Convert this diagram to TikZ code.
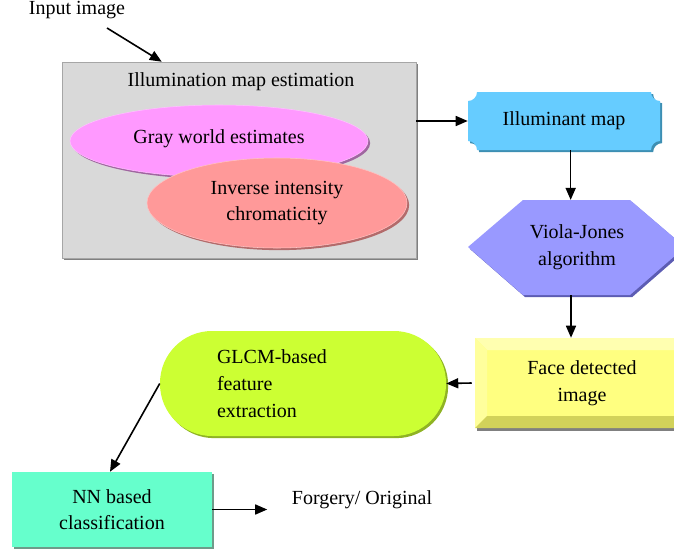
\documentclass[tikz,border=0pt]{standalone}
\usepackage{fontspec}
\setmainfont{Liberation Serif}
\usetikzlibrary{arrows.meta,shapes.geometric,shadows}
\definecolor{graybox}{HTML}{D9D9D9}
\definecolor{grayedge}{HTML}{A6A6A6}
\definecolor{grayshade}{HTML}{808080}
\definecolor{pinkfill}{HTML}{FF99FF}
\definecolor{pinkshade}{HTML}{A066A0}
\definecolor{salmonfill}{HTML}{FF9999}
\definecolor{salmonshade}{HTML}{B36B6B}
\definecolor{bluefill}{HTML}{66CCFF}
\definecolor{blueshade}{HTML}{3D8FB3}
\definecolor{hexfill}{HTML}{9999FF}
\definecolor{hexshade}{HTML}{5C5CB3}
\definecolor{facemain}{HTML}{FFFF80}
\definecolor{facetop}{HTML}{FFFFB0}
\definecolor{faceleft}{HTML}{FFFF9C}
\definecolor{facebot}{HTML}{D2D25A}
\definecolor{limefill}{HTML}{CCFF33}
\definecolor{limeshade}{HTML}{8FB324}
\definecolor{mintfill}{HTML}{66FFCC}
\definecolor{mintshade}{HTML}{6E9C8A}
\begin{document}
\begin{tikzpicture}[x=0.75pt,y=-0.75pt,>={Triangle[length=9pt,width=7.5pt]},
 every node/.style={font=\fontsize{15}{20}\selectfont},
 conn/.style={->,line width=1.2pt},
 sh/.style={drop shadow={shadow xshift=1.6pt,shadow yshift=-1.6pt,fill=#1,opacity=1}}]
 \useasboundingbox (0,0) rectangle (674,550);
 % illumination map estimation
 \node[draw=grayedge,fill=graybox,sh=grayshade,minimum width=265.5pt,minimum height=147pt] (illumbox) at (239,160) {};
 \node (illumtitle) at (241,82) {Illumination map estimation};
 \node[ellipse,draw=pinkfill!60!white,fill=pinkfill,sh=pinkshade,minimum width=223.5pt,minimum height=54pt,inner sep=0pt] (gray) at (219,141) {\raisebox{6pt}{Gray world estimates}};
 \node[ellipse,draw=salmonfill!60!white,fill=salmonfill,sh=salmonshade,minimum width=195pt,minimum height=67.5pt,inner sep=0pt,align=center] (iic) at (277,203) {Inverse intensity\\chromaticity};
 \node (input) at (77,10) {Input image};
 \coordinate (inA) at (107,28);
 % illuminant map
 \fill[bluefill,sh=blueshade] (477,92) -- (651,92) .. controls (651,97) and (655,101) .. (660,101) -- (660,141)
   .. controls (655,141) and (651,145) .. (651,150) -- (477,150) .. controls (477,145) and (473,141) .. (468,141)
   -- (468,101) .. controls (473,101) and (477,97) .. (477,92) -- cycle;
 \node[minimum width=144pt,minimum height=43.5pt] (illum) at (564,121) {Illuminant map};
 % viola-jones
 \fill[hexfill,sh=hexshade] (468,247) -- (523,200) -- (630,200) -- (685,247) -- (630,295) -- (523,295) -- cycle;
 \node[minimum width=162pt,minimum height=71pt,align=center] (viola) at (577,247.5) {Viola-Jones\\algorithm};
 % face detected
 \fill[grayshade] (477,428) rectangle (690,431);
 \fill[facemain] (475,338) rectangle (690,428);
 \fill[facetop] (475,338) -- (690,338) -- (678,350) -- (487,350) -- cycle;
 \fill[faceleft] (475,338) -- (487,350) -- (487,416) -- (475,428) -- cycle;
 \fill[facebot] (475,428) -- (487,416) -- (678,416) -- (690,428) -- cycle;
 \node[minimum width=161pt,minimum height=67.5pt,align=center] (face) at (582,383) {Face detected\\image};
 % glcm
 \node[fill=limefill,sh=limeshade,rounded corners=39pt,minimum width=214.5pt,minimum height=78.75pt,
   text width=129pt,align=left] (glcm) at (303,383.5) {GLCM-based\\feature\\extraction};
 % nn
 \node[fill=mintfill,sh=mintshade,minimum width=150pt,minimum height=56.25pt,align=center] (nn) at (112,509.5) {NN based\\classification};
 \node (forgery) at (362,500) {Forgery/ Original};
 % connectors
 \draw[conn] (inA) -- ([xshift=75pt]illumbox.north west);
 \draw[conn] (illumbox.east |- illum.west) -- (illum.west);
 \draw[conn] ([xshift=5pt]illum.south) -- ([xshift=5pt]illum.south |- viola.north);
 \draw[conn] ([xshift=-4.5pt]viola.south) -- ([xshift=-4.5pt]viola.south |- face.north);
 \draw[conn] ([xshift=-2pt]face.west) -- (glcm.east);
 \draw[conn] (glcm.west) -- ([xshift=-1.5pt]nn.north);
 \draw[conn,shorten >=15pt] (nn.east) -- (nn.east -| forgery.west);
\end{tikzpicture}
\end{document}
